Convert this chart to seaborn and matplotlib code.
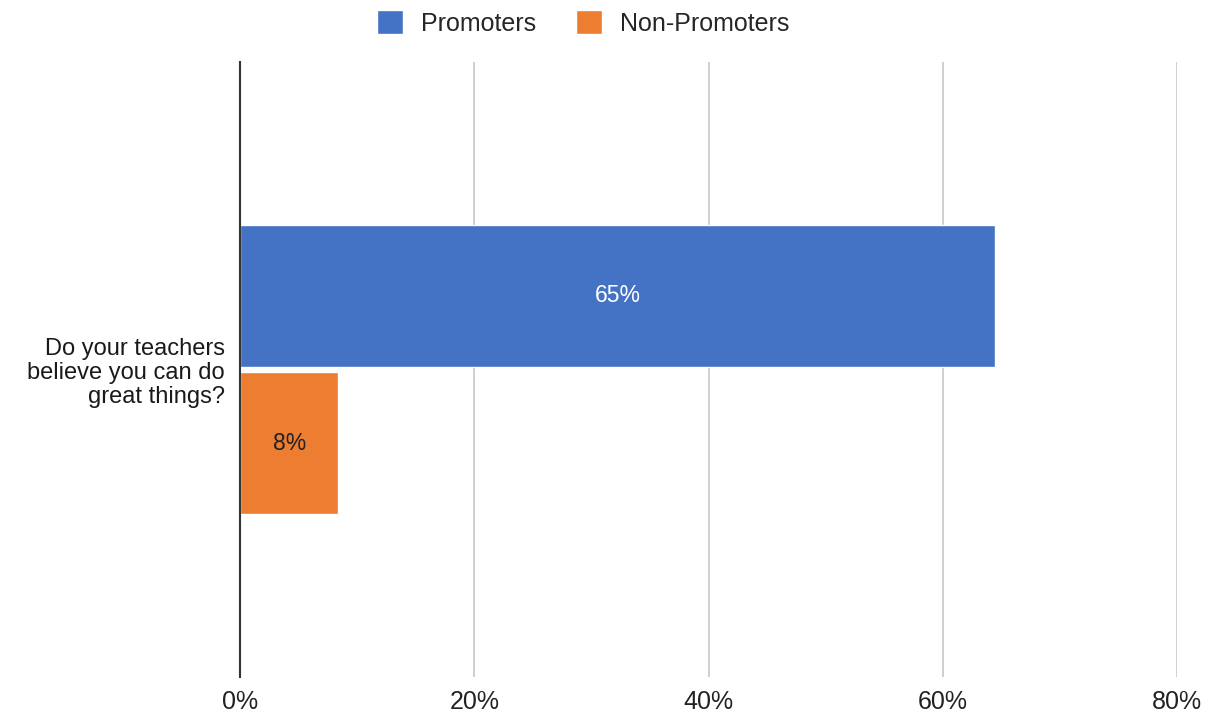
import matplotlib
matplotlib.use("Agg")
import matplotlib.pyplot as plt
import seaborn as sns
import pandas as pd

categories = ["Do your teachers\nbelieve you can do\ngreat things?"]
series = ["Promoters", "Non-Promoters"]
promoters = [64.5]
non_promoters = [8.4]
value_labels = {"Promoters": ["65%"], "Non-Promoters": ["8%"]}
x_ticks = [0, 20, 40, 60, 80]
x_tick_labels = ["0%", "20%", "40%", "60%", "80%"]
colors = ["#4472c4", "#ed7d31"]

df = pd.DataFrame({
    "Question": categories * 2,
    "Series": [series[0]] * len(categories) + [series[1]] * len(categories),
    "Value": promoters + non_promoters,
})

sns.set_theme(style="white")
plt.rcParams["font.family"] = ["Liberation Sans", "DejaVu Sans"]

fig = plt.figure(figsize=(12.22, 7.15), dpi=100)
ax = fig.add_axes([0.1964, 0.0531, 0.9632 - 0.1964, 0.9133 - 0.0531])

sns.barplot(data=df, y="Question", x="Value", hue="Series", orient="h",
            palette=colors, hue_order=series, width=0.48, gap=0.04,
            ax=ax, legend=True, saturation=1)

ax.set_xlim(0, 80)
ax.set_ylim(0.5, -0.5)
ax.set_xticks(x_ticks)
ax.set_xticklabels(x_tick_labels, fontsize=18, color="#222222")
ax.tick_params(axis="y", labelsize=17, length=0, pad=11, labelcolor="#1a1a1a")
ax.tick_params(axis="x", length=0, pad=9)
for lbl in ax.get_yticklabels():
    lbl.set_horizontalalignment("right")
    lbl.set_multialignment("right")
    lbl.set_linespacing(1.12)
ax.set_xlabel("")
ax.set_ylabel("")
ax.xaxis.grid(True, color="#cccccc", linewidth=1.3)
ax.set_axisbelow(True)
for s in ["top", "right", "bottom"]:
    ax.spines[s].set_visible(False)
ax.spines["left"].set_color("#333333")
ax.spines["left"].set_linewidth(1.5)
ax.spines["left"].set_zorder(5)

for cont, name, tc in zip(ax.containers, series, ["white", "#222222"]):
    ax.bar_label(cont, labels=value_labels[name], label_type="center",
                 color=tc, fontsize=16.5)

handles, labels = ax.get_legend_handles_labels()
ax.get_legend().remove()
fig.legend(handles, labels, loc="center", bbox_to_anchor=(583 / 1222, 1 - 23 / 715),
           ncol=2, frameon=False, fontsize=18, handlelength=1.05, handleheight=1.05,
           handletextpad=0.7, columnspacing=1.6)

fig.savefig("out.png", dpi=100)
